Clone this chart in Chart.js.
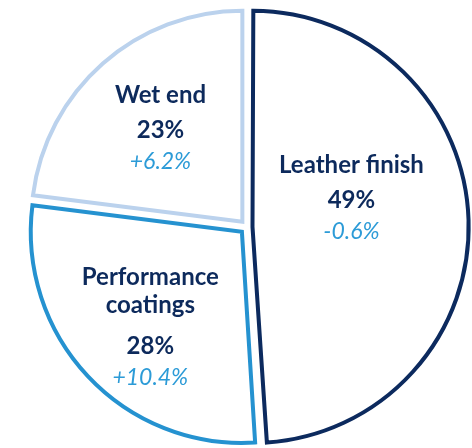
<!DOCTYPE html>
<html>
<head>
<meta charset="utf-8">
<script src="https://cdn.jsdelivr.net/npm/chart.js@4.4.1/dist/chart.umd.min.js"></script>
<style>
html, body { margin: 0; padding: 0; background: #fff; }
#wrap { width: 472px; height: 448px; }
</style>
</head>
<body>
<div id="wrap"><canvas id="myChart"></canvas></div>
<script>
var segments = ["Leather finish", "Performance coatings", "Wet end"];
var nameLines = [["Leather finish"], ["Performance", "coatings"], ["Wet end"]];
var shares = [49, 28, 23];
var changes = ["-0.6%", "+10.4%", "+6.2%"];

var borderColors = ["#0c2a5e", "#2592d0", "#bbd2ed"];
var navy = "#0d2a5c";
var changeColor = "#2c9bd7";

// where each label block sits: turn from mid angle (deg), distance as share of radius
var labelSpots = [
    {turn: -8.5, dist: 0.503},
    {turn: -9.6, dist: 0.758},
    {turn: -2.9, dist: 0.587}
];

var sliceLabels = {
    id: 'sliceLabels',
    afterDatasetsDraw: function (chart) {
        var ctx = chart.ctx;
        var meta = chart.getDatasetMeta(0);
        ctx.save();
        ctx.textAlign = 'center';
        ctx.textBaseline = 'alphabetic';
        meta.data.forEach(function (arc, i) {
            var p = arc.getProps(['x', 'y', 'startAngle', 'endAngle', 'outerRadius'], true);
            var spot = labelSpots[i];
            var ang = (p.startAngle + p.endAngle) / 2 + spot.turn * Math.PI / 180;
            var x = p.x + Math.cos(ang) * p.outerRadius * spot.dist;
            var y = p.y + Math.sin(ang) * p.outerRadius * spot.dist;

            ctx.fillStyle = navy;
            ctx.font = 'bold 24px Lato';
            var lines = nameLines[i];
            var gap = 35 + 6 * (lines.length - 1);
            for (var k = 0; k < lines.length; k++) {
                var ly = y - gap - (lines.length - 1 - k) * 28;
                ctx.fillText(lines[k], x, ly);
            }
            ctx.fillText(shares[i] + '%', x, y);

            ctx.fillStyle = changeColor;
            ctx.font = 'italic 23px Lato';
            ctx.fillText(changes[i], x, y + 31);
        });
        ctx.restore();
    }
};

var ctx = document.getElementById("myChart");
var myPie = new Chart(ctx, {
    type: 'pie',
    data: {
        labels: segments,
        datasets: [{
            data: shares,
            backgroundColor: '#ffffff',
            borderColor: borderColors,
            borderWidth: 4,
            borderJoinStyle: 'miter',
            offset: [22, 28, 28]
        }]
    },
    options: {
        responsive: true,
        maintainAspectRatio: false,
        animation: false,
        radius: 211,
        layout: {
            padding: {left: 22, top: 6, right: 0, bottom: 0}
        },
        plugins: {
            legend: {display: false},
            tooltip: {enabled: false}
        }
    },
    plugins: [sliceLabels]
});
</script>
</body>
</html>
